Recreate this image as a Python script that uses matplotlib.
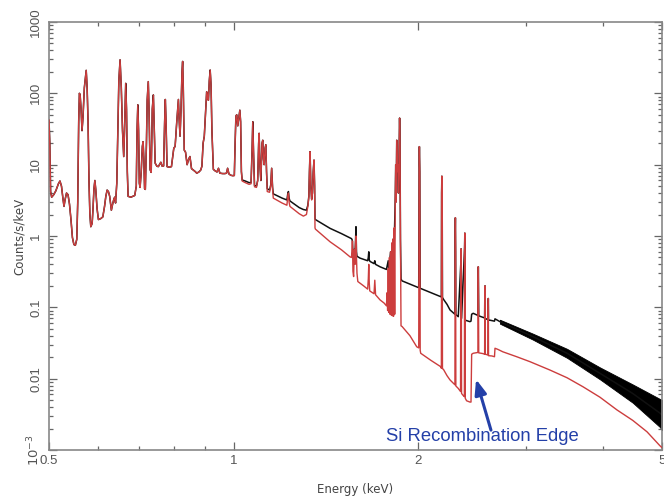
import matplotlib
matplotlib.use('Agg')
import matplotlib.pyplot as plt
from matplotlib.ticker import FixedLocator, FixedFormatter, NullFormatter

# ---- shared low-energy part of the spectrum (data and model coincide) ----
low_E = [0.500, 0.5015, 0.503, 0.505, 0.509, 0.513, 0.518, 0.521, 0.524, 0.527, 0.529, 0.531,
         0.534, 0.537, 0.540, 0.543, 0.546, 0.549, 0.552, 0.555, 0.557, 0.559, 0.5605, 0.562,
         0.564, 0.566, 0.568, 0.571, 0.575, 0.577, 0.579, 0.581, 0.583, 0.585, 0.588, 0.590,
         0.592, 0.594, 0.596, 0.599, 0.602, 0.607, 0.612, 0.616, 0.619, 0.622, 0.625, 0.628,
         0.632, 0.635, 0.638, 0.640, 0.642, 0.645, 0.648, 0.650, 0.653, 0.656, 0.659, 0.662,
         0.664, 0.667, 0.669, 0.671, 0.673, 0.680, 0.690, 0.694, 0.696, 0.698, 0.700, 0.702,
         0.704, 0.707, 0.710, 0.712, 0.714, 0.716, 0.718, 0.721, 0.723, 0.726, 0.728, 0.731,
         0.734, 0.737, 0.740, 0.742, 0.745, 0.750, 0.754, 0.758, 0.761, 0.765, 0.769, 0.772,
         0.774, 0.776, 0.779, 0.785, 0.792, 0.796, 0.799, 0.803, 0.808, 0.813, 0.815, 0.818,
         0.821, 0.824, 0.826, 0.828, 0.831, 0.835, 0.840, 0.845, 0.849, 0.854, 0.860, 0.866,
         0.871, 0.878, 0.884, 0.888, 0.892, 0.896, 0.900, 0.904, 0.907, 0.910, 0.913, 0.916,
         0.919, 0.922, 0.927, 0.933, 0.940, 0.945, 0.950, 0.960, 0.968, 0.974, 0.978, 0.983,
         0.990, 0.998]
low_C = [42, 20, 4.2, 3.5, 3.8, 4.3, 5.4, 5.9, 5.0, 3.3, 2.6, 3.2,
         4.0, 3.8, 2.8, 1.7, 0.95, 0.76, 0.74, 0.9, 3.0, 40, 100, 95,
         60, 30, 45, 120, 210, 120, 40, 6, 2.0, 1.35, 1.5, 2.5,
         4.6, 6.0, 4.5, 2.4, 1.7, 1.75, 1.85, 2.6, 3.6, 4.4, 4.2, 3.6,
         2.3, 2.8, 3.3, 3.5, 2.9, 5.5, 40, 150, 295, 120, 30, 13,
         30, 138, 60, 8, 3.6, 3.5, 3.7, 5, 30, 69, 30, 5.5,
         4.8, 8, 18, 21, 12, 4.6, 4.5, 20, 80, 146, 60, 8.5,
         7.8, 60, 95, 40, 10.5, 9.5, 9.4, 10.2, 10.8, 9.5, 9.6, 40,
         82, 40, 9.4, 9.2, 9.4, 13, 17, 18, 40, 82, 45, 25,
         60, 200, 280, 120, 16, 15, 10, 12, 13, 8.8, 8.4, 8.0,
         7.6, 7.9, 8.4, 9.5, 20, 25, 50, 105, 85, 80, 150, 212,
         130, 30, 8.6, 8.2, 7.9, 8.9, 7.6, 7.5, 7.5, 7.6, 8.9, 7.4,
         7.1, 7.0]

# ---- model (red) above 1 keV ----
red_E = [1.003, 1.006, 1.009, 1.012, 1.016, 1.020, 1.024, 1.027, 1.030, 1.033, 1.045, 1.060,
         1.068, 1.072, 1.075, 1.078, 1.082, 1.090, 1.095, 1.099, 1.101, 1.104, 1.108, 1.110,
         1.113, 1.116, 1.119, 1.122, 1.126, 1.129, 1.132, 1.135, 1.145, 1.150, 1.154, 1.158,
         1.161, 1.200, 1.222, 1.226, 1.229, 1.232, 1.236, 1.280, 1.300, 1.315, 1.322, 1.327,
         1.330, 1.333, 1.337, 1.341, 1.345, 1.349, 1.353, 1.356, 1.358, 1.360, 1.437, 1.500,
         1.549, 1.557, 1.560, 1.563, 1.566, 1.570, 1.574, 1.578, 1.581, 1.584, 1.587, 1.590,
         1.595, 1.630, 1.655, 1.659, 1.662, 1.665, 1.668, 1.695, 1.700, 1.705, 1.734, 1.760,
         1.776, 1.780, 1.784, 1.788, 1.792, 1.796, 1.800, 1.804, 1.808, 1.812, 1.816, 1.820,
         1.824, 1.828, 1.832, 1.836, 1.839, 1.842, 1.846, 1.850, 1.854, 1.858, 1.862, 1.866,
         1.869, 1.872, 1.876, 1.883, 1.940, 1.990, 2.005, 2.008, 2.010, 2.013, 2.016, 2.020,
         2.100, 2.178, 2.183, 2.185, 2.187, 2.190, 2.192, 2.200, 2.230, 2.255, 2.290, 2.297,
         2.299, 2.301, 2.303, 2.305, 2.326, 2.346, 2.348, 2.351, 2.353, 2.355, 2.370, 2.380,
         2.382, 2.384, 2.386, 2.388, 2.400, 2.430, 2.440, 2.446, 2.460, 2.500, 2.504, 2.506,
         2.508, 2.510, 2.512, 2.550, 2.568, 2.570, 2.572, 2.574, 2.600, 2.602, 2.604, 2.606,
         2.640, 2.665, 2.670, 2.700, 2.750, 2.897, 3.045, 3.283, 3.500, 3.716, 3.960, 4.223,
         4.480, 4.726, 4.960, 5.000]
red_C = [7.0, 20, 48, 50, 35, 45, 58, 40, 8, 5.9, 5.6, 5.3,
         5.4, 15, 40, 15, 4.9, 4.8, 6, 20, 27.5, 10, 6, 10,
         20, 22, 12, 10, 17, 19, 8, 4.2, 4.1, 5, 8.9, 4.5,
         3.4, 2.9, 2.7, 3.6, 4.0, 3.0, 2.6, 2.05, 1.9, 2.0, 2.6, 3.5,
         8, 15.2, 5, 3.2, 4, 8, 11.6, 5, 1.3, 1.25, 0.83, 0.64,
         0.51, 0.5, 0.6, 0.85, 0.32, 0.27, 0.65, 0.4, 0.8, 1.0, 0.5, 0.3,
         0.23, 0.2, 0.18, 0.25, 0.40, 0.22, 0.17, 0.155, 0.24, 0.15, 0.127, 0.115,
         0.105, 0.16, 0.09, 0.35, 0.085, 0.5, 0.08, 0.6, 0.078, 0.8, 0.076, 0.9,
         0.075, 1.3, 0.08, 3.5, 10, 3, 22, 8, 10, 4, 12, 45,
         20, 0.9, 0.055, 0.054, 0.04, 0.028, 0.027, 10, 17.9, 8, 0.025, 0.0227,
         0.018, 0.0147, 0.014, 4, 6.9, 2, 0.0138, 0.0135, 0.011, 0.0096, 0.0084, 0.0082,
         1.0, 1.8, 0.6, 0.0079, 0.0073, 0.0066, 0.4, 0.66, 0.2, 0.0062, 0.0058, 0.0056,
         0.7, 1.1, 0.3, 0.0053, 0.0049, 0.0047, 0.0047, 0.022, 0.0227, 0.0233, 0.0233, 0.25,
         0.37, 0.1, 0.023, 0.0225, 0.022, 0.15, 0.2, 0.022, 0.0215, 0.1, 0.133, 0.021,
         0.0208, 0.0203, 0.0267, 0.0257, 0.0238, 0.0203, 0.0173, 0.0132, 0.0103, 0.0077, 0.0055, 0.00364,
         0.0026, 0.0018, 0.00115, 0.00108]

# ---- data (black) above 1 keV ----
blk_E = [1.003, 1.006, 1.009, 1.012, 1.016, 1.020, 1.024, 1.027, 1.030, 1.033, 1.045, 1.060,
         1.068, 1.072, 1.075, 1.078, 1.082, 1.090, 1.095, 1.099, 1.101, 1.104, 1.108, 1.110,
         1.113, 1.116, 1.119, 1.122, 1.126, 1.129, 1.132, 1.135, 1.145, 1.150, 1.154, 1.158,
         1.161, 1.200, 1.222, 1.226, 1.229, 1.232, 1.236, 1.280, 1.300, 1.315, 1.322, 1.327,
         1.330, 1.333, 1.337, 1.341, 1.345, 1.349, 1.353, 1.356, 1.358, 1.360, 1.437, 1.500,
         1.557, 1.560, 1.563, 1.566, 1.570, 1.574, 1.578, 1.581, 1.584, 1.587, 1.590, 1.608,
         1.655, 1.659, 1.662, 1.665, 1.670, 1.695, 1.700, 1.705, 1.734, 1.776, 1.788, 1.792,
         1.804, 1.808, 1.820, 1.824, 1.836, 1.839, 1.842, 1.846, 1.850, 1.854, 1.858, 1.862,
         1.866, 1.869, 1.872, 1.876, 1.883, 2.000, 2.005, 2.008, 2.010, 2.013, 2.016, 2.100,
         2.178, 2.183, 2.185, 2.187, 2.190, 2.192, 2.200, 2.230, 2.255, 2.297, 2.299, 2.301,
         2.303, 2.305, 2.326, 2.348, 2.351, 2.353, 2.355, 2.382, 2.384, 2.386, 2.388, 2.430,
         2.440, 2.446, 2.460, 2.504, 2.506, 2.508, 2.510, 2.512, 2.568, 2.570, 2.572, 2.574,
         2.600, 2.602, 2.604, 2.606, 2.620, 2.665, 2.670, 2.720, 3.080, 3.500, 3.960, 4.480,
         4.960, 5.000]
blk_C = [7.1, 20, 48, 50, 35, 45, 58, 40, 8, 6.1, 5.9, 5.6,
         5.6, 15, 40, 15, 5.1, 5.0, 6, 20, 27.5, 10, 6, 10,
         20, 22, 12, 10, 17, 19, 8, 4.6, 4.4, 5.2, 8.9, 4.8,
         3.9, 3.4, 3.2, 3.9, 4.2, 3.4, 3.1, 2.5, 2.35, 2.3, 2.7, 3.6,
         8, 15.2, 5, 3.3, 4, 8, 11.6, 5, 1.75, 1.7, 1.28, 1.08,
         0.92, 0.9, 0.85, 0.55, 0.52, 0.65, 0.55, 0.8, 1.35, 0.6, 0.52, 0.49,
         0.45, 0.5, 0.6, 0.46, 0.44, 0.41, 0.45, 0.40, 0.37, 0.34, 0.45, 0.33,
         0.6, 0.32, 0.9, 0.31, 3.5, 10, 3, 22, 8, 10, 4, 12,
         45, 20, 0.9, 0.25, 0.235, 0.19, 0.19, 10, 17.9, 8, 0.185, 0.16,
         0.141, 0.14, 4, 6.9, 2, 0.138, 0.13, 0.11, 0.092, 0.08, 1.0, 1.8,
         0.6, 0.079, 0.074, 0.4, 0.66, 0.2, 0.07, 0.7, 1.1, 0.3, 0.066, 0.063,
         0.064, 0.08, 0.0825, 0.077, 0.2, 0.37, 0.15, 0.076, 0.071, 0.15, 0.2, 0.07,
         0.067, 0.1, 0.133, 0.066, 0.066, 0.064, 0.069, 0.063, 0.0388, 0.0227, 0.0119, 0.0062,
         0.0033, 0.0031]

# ---- statistical scatter envelope of the data at high energy ----
band_E = [2.72, 3.08, 3.50, 3.96, 4.48, 4.96, 5.00]
band_lo = [0.059, 0.0352, 0.0196, 0.0098, 0.0046, 0.0021, 0.0019]
band_hi = [0.067, 0.0427, 0.0262, 0.0144, 0.0083, 0.0052, 0.0050]

x_ticks = [0.5, 1, 2, 5]
x_ticklabels = ['0.5', '1', '2', '5']
x_minor = [0.6, 0.7, 0.8, 0.9, 3, 4]
y_ticks = [1e-3, 1e-2, 1e-1, 1, 10, 100, 1000]
y_ticklabels = [r'$10^{-3}$', '0.01', '0.1', '1', '10', '100', '1000']
y_minor = [m * 10.0 ** e for e in range(-3, 3) for m in range(2, 10)]

note_text = 'Si Recombination Edge'
note_pos = (2.548, 0.00157)
arrow_tip = (2.487, 0.0098)
arrow_tail = (2.63, 0.0019)

fig = plt.figure(figsize=(6.64, 5.0), dpi=100)
ax = fig.add_axes([49 / 664, 50 / 500, 613 / 664, 428 / 500])
ax.set_xscale('log')
ax.set_yscale('log')

ax.fill_between(band_E, band_lo, band_hi, color='black', lw=0.6, edgecolor='black', zorder=2)
ax.plot(low_E + blk_E, low_C + blk_C, color='#111111', lw=1.1, zorder=2)
ax.plot(low_E + red_E, low_C + red_C, color='#cc3d3d', lw=1.0, zorder=3)

ax.set_xlim(0.5, 5)
ax.set_ylim(1e-3, 1e3)

ax.xaxis.set_major_locator(FixedLocator(x_ticks))
ax.xaxis.set_major_formatter(FixedFormatter(x_ticklabels))
ax.xaxis.set_minor_locator(FixedLocator(x_minor))
ax.xaxis.set_minor_formatter(NullFormatter())
ax.yaxis.set_major_locator(FixedLocator(y_ticks))
ax.yaxis.set_major_formatter(FixedFormatter(y_ticklabels))
ax.yaxis.set_minor_locator(FixedLocator(y_minor))
ax.yaxis.set_minor_formatter(NullFormatter())

ax.tick_params(which='both', direction='in', top=True, right=True, color='#666666',
               labelcolor='#555555', labelsize=9.5, width=0.9)
ax.tick_params(which='major', length=6)
ax.tick_params(which='minor', length=3)
ax.tick_params(axis='y', pad=5)
for lbl in ax.get_yticklabels():
    lbl.set_rotation(90)
    lbl.set_va('center')
    lbl.set_family('Liberation Sans')
for lbl in ax.get_xticklabels():
    lbl.set_family('Liberation Sans')

for sp in ax.spines.values():
    sp.set_color('#888888')
    sp.set_linewidth(1.2)

ax.set_xlabel('Energy (keV)', fontsize=8.5, color='#444444')
ax.set_ylabel('Counts/s/keV', fontsize=8.5, color='#444444')
ax.xaxis.set_label_coords(0.5, -0.078)
ax.yaxis.set_label_coords(-0.038, 0.5)

blue = '#2440a8'
ax.text(note_pos[0], note_pos[1], note_text, color=blue, fontsize=13.3,
        family='Liberation Sans', ha='center', va='center', zorder=5)
ax.annotate('', xy=arrow_tip, xytext=arrow_tail,
            arrowprops=dict(arrowstyle='-|>,head_width=0.35,head_length=0.9',
                            color=blue, lw=2.2, shrinkA=0, shrinkB=0), zorder=5)

fig.savefig('out.png', dpi=100, facecolor='white')
